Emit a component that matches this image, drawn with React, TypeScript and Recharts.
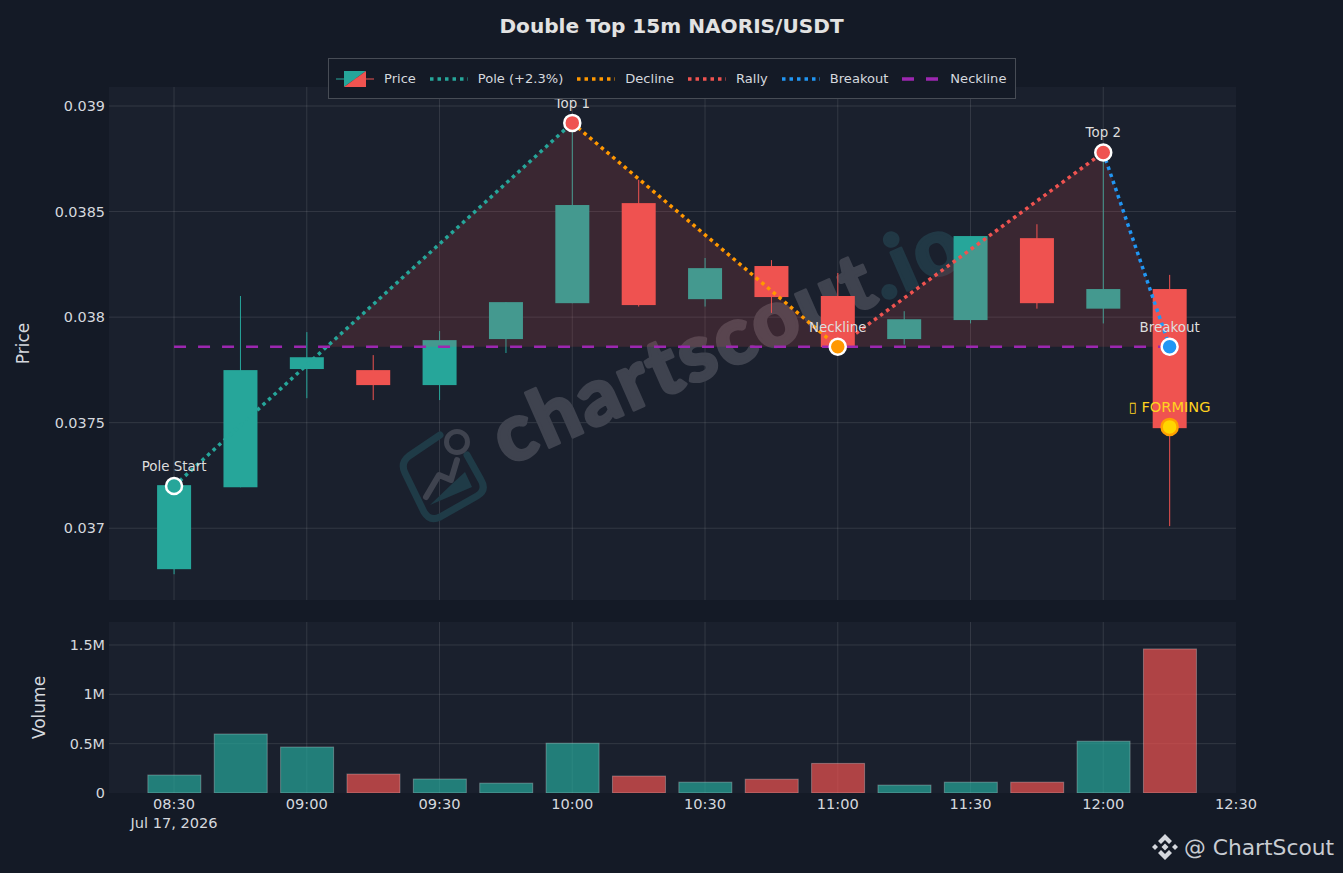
import { Area, Bar, CartesianGrid, ComposedChart, Line, XAxis, YAxis } from "recharts";

const FONT = "'DejaVu Sans', sans-serif";
const PAGE_BG = "#141a26";
const PLOT_BG = "#1a202d";
const GRID = "rgba(255,255,255,0.11)";
const TEXT = "#d5d8de";
const UP = "#26a69a";
const DOWN = "#ef5350";
const CANDLE_WIDTH = 34;

// minutes since midnight, 08:30 = 510
const times = [510, 525, 540, 555, 570, 585, 600, 615, 630, 645, 660, 675, 690, 705, 720, 735];
const opens = [0.036806, 0.037194, 0.037754, 0.037749, 0.037678, 0.037896, 0.038066, 0.03854, 0.038085, 0.038242, 0.0381, 0.037896, 0.037986, 0.038374, 0.03804, 0.038133];
const closes = [0.037204, 0.037749, 0.03781, 0.037678, 0.037891, 0.038071, 0.038531, 0.038057, 0.038232, 0.038095, 0.037858, 0.03799, 0.038384, 0.038066, 0.038133, 0.037474];
const highs = [0.037204, 0.0381, 0.037929, 0.03782, 0.037934, 0.038071, 0.038919, 0.03865, 0.03828, 0.03827, 0.038209, 0.038028, 0.038384, 0.03844, 0.03878, 0.0382];
const lows = [0.036782, 0.037194, 0.037616, 0.037607, 0.037607, 0.03783, 0.038066, 0.03805, 0.03805, 0.03802, 0.037858, 0.03787, 0.03797, 0.03804, 0.03797, 0.03701];
const volumes = [182000, 598000, 466000, 192000, 142000, 100000, 505000, 172000, 110000, 140000, 300000, 80000, 110000, 110000, 525000, 1460000];

const xTicks = [510, 540, 570, 600, 630, 660, 690, 720, 750];
const xLabels = ["08:30", "09:00", "09:30", "10:00", "10:30", "11:00", "11:30", "12:00", "12:30"];
const priceTicks = [0.037, 0.0375, 0.038, 0.0385, 0.039];
const volumeTicks = [0, 500000, 1000000, 1500000];
const volumeLabels = ["0", "0.5M", "1M", "1.5M"];

const neckline = 0.03786;
const poleLine = [{ t: 510, v: 0.0372 }, { t: 600, v: 0.03892 }];
const declineLine = [{ t: 600, v: 0.03892 }, { t: 660, v: neckline }];
const rallyLine = [{ t: 660, v: neckline }, { t: 720, v: 0.03878 }];
const breakoutLine = [{ t: 720, v: 0.03878 }, { t: 735, v: neckline }];
const necklineLine = [{ t: 510, v: neckline }, { t: 735, v: neckline }];
const patternFill = [
  { t: 544.3, v: neckline },
  { t: 600, v: 0.03892 },
  { t: 660, v: neckline },
  { t: 720, v: 0.03878 },
  { t: 735, v: neckline },
];

const markers = [
  { t: 510, v: 0.0372, label: "Pole Start" },
  { t: 600, v: 0.03892, label: "Top 1" },
  { t: 660, v: neckline, label: "Neckline" },
  { t: 720, v: 0.03878, label: "Top 2" },
  { t: 735, v: neckline, label: "Breakout" },
  { t: 735, v: 0.03748, label: "▯ FORMING" },
];
const markerColors: Record<string, string> = {
  "Pole Start": UP,
  "Top 1": DOWN,
  Neckline: "#ff9800",
  "Top 2": DOWN,
  Breakout: "#2196f3",
  "▯ FORMING": "#ffd600",
};

const candles = times.map((t, i) => ({
  t,
  open: opens[i],
  close: closes[i],
  high: highs[i],
  low: lows[i],
  volume: volumes[i],
  up: closes[i] >= opens[i],
}));

const range = (d: any) => [d.low, d.high];

function CandleShape(props: any) {
  const { x, y, width, height, payload } = props;
  const span = payload.high - payload.low || 1;
  const toY = (v: number) => y + ((payload.high - v) / span) * height;
  const top = toY(Math.max(payload.open, payload.close));
  const bottom = toY(Math.min(payload.open, payload.close));
  const color = payload.up ? UP : DOWN;
  const mid = x + width / 2;
  return (
    <g>
      <line x1={mid} x2={mid} y1={y} y2={y + height} stroke={color} strokeWidth={1} />
      <rect x={mid - CANDLE_WIDTH / 2} y={top} width={CANDLE_WIDTH} height={bottom - top} fill={color} />
    </g>
  );
}

function VolumeShape(props: any) {
  const { x, y, width, height, payload } = props;
  return (
    <rect
      x={x}
      y={y}
      width={width}
      height={height}
      fill={payload.up ? UP : DOWN}
      fillOpacity={0.7}
      stroke="rgba(255,255,255,0.28)"
      strokeWidth={1}
    />
  );
}

function MarkerDot(props: any) {
  const { cx, cy, payload } = props;
  const forming = payload.label.includes("FORMING");
  const color = markerColors[payload.label];
  return (
    <g key={payload.label}>
      <circle cx={cx} cy={cy} r={8} fill={color} stroke={forming ? "#ffa000" : "#fff"} strokeWidth={2.5} />
      <text
        x={cx}
        y={cy - 15}
        textAnchor="middle"
        fontFamily={FONT}
        fontSize={forming ? 14.6 : 13.4}
        fill={forming ? "#ffd21f" : "#dedede"}
      >
        {payload.label}
      </text>
    </g>
  );
}

function Watermark() {
  return (
    <g>
      <g transform="rotate(-23.7 507 466)">
        <text
          x={507}
          y={466}
          fontFamily="Lato, sans-serif"
          fontWeight={900}
          fontSize={80}
          letterSpacing={3}
          fill="#3f434f"
          stroke="#3f434f"
          strokeWidth={3}
          strokeLinejoin="round"
        >
          chartscout
          <tspan fill="#213845" stroke="#213845">.io</tspan>
        </text>
      </g>
      <g fill="none" strokeLinecap="round" strokeLinejoin="round">
        <path
          d="M467 455 L481 480 Q487 490 477 496 L440 517 Q430 522 424 512 L405 473 Q400 463 409 456 L440 435"
          stroke="#1f3b47"
          strokeWidth={7}
        />
        <path d="M430 505 L453 483 L465 472 L472 487 Z" fill="#1f3b47" />
        <path d="M426 497 L439 475 L451 480 L457 460" stroke="#3f434f" strokeWidth={6} />
        <circle cx={457} cy={442} r={10.5} stroke="#3f434f" strokeWidth={5} />
      </g>
    </g>
  );
}

const legendItems = [
  { name: "Pole (+2.3%)", color: UP, dash: "3.5 4" },
  { name: "Decline", color: "#ff9800", dash: "3.5 4" },
  { name: "Rally", color: DOWN, dash: "3.5 4" },
  { name: "Breakout", color: "#2196f3", dash: "3.5 4" },
  { name: "Neckline", color: "#9c27b0", dash: "12 12" },
];

function ChartLegend() {
  return (
    <div
      style={{
        position: "absolute",
        left: 328,
        top: 58,
        width: 686,
        height: 39,
        display: "flex",
        alignItems: "center",
        background: PAGE_BG,
        border: "1px solid rgba(255,255,255,0.22)",
        fontFamily: FONT,
        fontSize: 13.05,
        color: TEXT,
        whiteSpace: "nowrap",
      }}
    >
      <svg width={38} height={20} style={{ marginLeft: 7 }}>
        <line x1={0} x2={19} y1={10} y2={10} stroke={UP} />
        <line x1={19} x2={38} y1={10} y2={10} stroke={DOWN} />
        <polygon points="8,2 30,2 8,18" fill={UP} />
        <polygon points="30,2 30,18 8,18" fill={DOWN} />
      </svg>
      <span style={{ marginLeft: 10 }}>Price</span>
      {legendItems.map((item) => (
        <span key={item.name} style={{ display: "flex", alignItems: "center", marginLeft: 14 }}>
          <svg width={38} height={20}>
            <line x1={0} x2={38} y1={10} y2={10} stroke={item.color} strokeWidth={3.5} strokeDasharray={item.dash} />
          </svg>
          <span style={{ marginLeft: 10 }}>{item.name}</span>
        </span>
      ))}
    </div>
  );
}

function TimeTick(props: any) {
  const { x, y, payload } = props;
  const i = xTicks.indexOf(payload.value);
  return (
    <g>
      <text x={x} y={y + 8} textAnchor="middle" fontFamily={FONT} fontSize={14.6} fill={TEXT}>
        {xLabels[i]}
      </text>
      {i === 0 && (
        <text x={x} y={y + 27} textAnchor="middle" fontFamily={FONT} fontSize={14.6} fill={TEXT}>
          Jul 17, 2026
        </text>
      )}
    </g>
  );
}

const tickStyle = { fontFamily: FONT, fontSize: 14.4, fill: TEXT };
const axisLabel = { fontFamily: FONT, fontSize: 17, fill: TEXT };
const dotted = { strokeWidth: 3.5, strokeDasharray: "3.5 4", dot: false, isAnimationActive: false } as const;

function BrandLogo() {
  return (
    <svg width={28} height={28} viewBox="0 0 28 28" style={{ position: "absolute", left: 1151, top: 833 }}>
      <g fill={TEXT}>
        <polygon points="14,1 21,8 18,11 14,7 10,11 7,8" />
        <polygon points="14,27 21,20 18,17 14,21 10,17 7,20" />
        <polygon points="1,14 4,11 7,14 4,17" />
        <polygon points="27,14 24,11 21,14 24,17" />
        <polygon points="14,10.5 17.5,14 14,17.5 10.5,14" />
      </g>
    </svg>
  );
}

export default function App() {
  return (
    <div
      style={{
        position: "absolute",
        left: 0,
        top: 0,
        width: 1343,
        height: 873,
        background: PAGE_BG,
        overflow: "hidden",
      }}
    >
      <div
        style={{
          position: "absolute",
          top: 14,
          width: 1343,
          textAlign: "center",
          fontFamily: FONT,
          fontWeight: 700,
          fontSize: 20.1,
          color: "#e2e2e2",
        }}
      >
        Double Top 15m NAORIS/USDT
      </div>

      <div style={{ position: "absolute", left: 0, top: 0 }}>
        <ComposedChart
          width={1343}
          height={610}
          data={candles}
          margin={{ top: 87, right: 107, bottom: 10, left: 0 }}
        >
          <CartesianGrid
            fill={PLOT_BG}
            stroke={GRID}
            horizontalValues={priceTicks}
            verticalValues={xTicks.slice(0, -1)}
          />
          <XAxis dataKey="t" type="number" domain={[495.3, 750]} ticks={xTicks} hide height={0} allowDataOverflow />
          <YAxis
            width={109}
            domain={[0.03666, 0.03909]}
            ticks={priceTicks}
            allowDataOverflow
            axisLine={false}
            tickLine={false}
            tickSize={0}
            tickMargin={4}
            tick={tickStyle}
            tickFormatter={(v) => String(v)}
            label={{
              value: "Price",
              angle: -90,
              position: "insideLeft",
              offset: 23,
              textAnchor: "middle",
              style: axisLabel,
            }}
          />
          <Watermark />
          <Bar dataKey={range} barSize={CANDLE_WIDTH} shape={CandleShape} isAnimationActive={false} />
          <Area
            data={patternFill}
            dataKey="v"
            baseValue={neckline}
            type="linear"
            stroke="none"
            fill="#ef5350"
            fillOpacity={0.15}
            isAnimationActive={false}
            zIndex={350}
          />
          <Line data={poleLine} dataKey="v" stroke={UP} {...dotted} />
          <Line data={declineLine} dataKey="v" stroke="#ff9800" {...dotted} />
          <Line data={rallyLine} dataKey="v" stroke={DOWN} {...dotted} />
          <Line data={breakoutLine} dataKey="v" stroke="#2196f3" {...dotted} />
          <Line
            data={necklineLine}
            dataKey="v"
            stroke="#9c27b0"
            strokeWidth={2.5}
            strokeDasharray="12 12"
            dot={false}
            isAnimationActive={false}
          />
          <Line data={markers} dataKey="v" stroke="none" dot={MarkerDot} isAnimationActive={false} />
        </ComposedChart>
      </div>

      <div style={{ position: "absolute", left: 0, top: 612 }}>
        <ComposedChart
          width={1343}
          height={240}
          data={candles}
          margin={{ top: 10, right: 107, bottom: 0, left: 0 }}
        >
          <CartesianGrid
            fill={PLOT_BG}
            stroke={GRID}
            horizontalValues={volumeTicks.slice(1)}
            verticalValues={xTicks.slice(0, -1)}
          />
          <XAxis
            dataKey="t"
            type="number"
            domain={[495.3, 750]}
            ticks={xTicks}
            interval={0}
            height={59}
            axisLine={false}
            tickLine={false}
            tick={<TimeTick />}
            allowDataOverflow
          />
          <YAxis
            width={109}
            domain={[0, 1733000]}
            ticks={volumeTicks}
            allowDataOverflow
            axisLine={false}
            tickLine={false}
            tickSize={0}
            tickMargin={4}
            tick={tickStyle}
            tickFormatter={(v) => volumeLabels[volumeTicks.indexOf(v)]}
            label={{
              value: "Volume",
              angle: -90,
              position: "insideLeft",
              offset: 39,
              textAnchor: "middle",
              style: axisLabel,
            }}
          />
          <Bar dataKey="volume" barSize={53} shape={VolumeShape} isAnimationActive={false} />
        </ComposedChart>
      </div>

      <ChartLegend />
      <BrandLogo />
      <div
        style={{
          position: "absolute",
          left: 1184,
          top: 835,
          fontFamily: FONT,
          fontSize: 21.8,
          color: "#c8ccd2",
          whiteSpace: "nowrap",
        }}
      >
        @ ChartScout
      </div>
    </div>
  );
}
